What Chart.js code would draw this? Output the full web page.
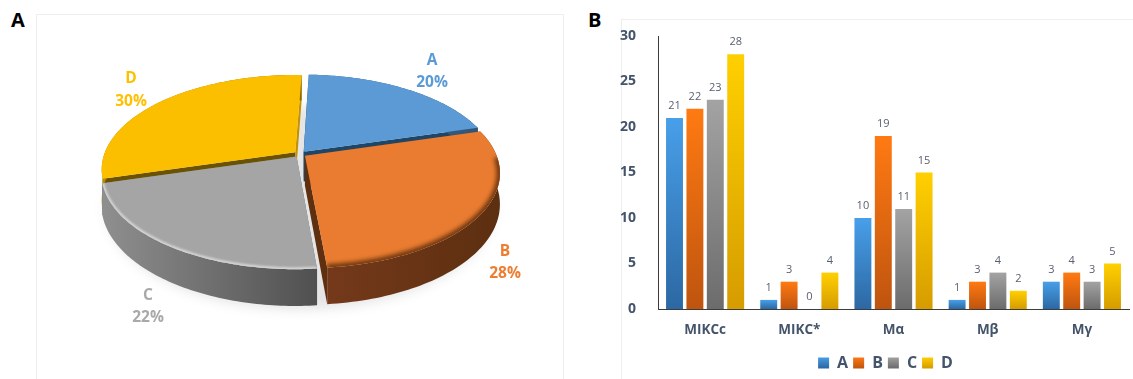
<!DOCTYPE html>
<html>
<head>
<meta charset="utf-8">
<title>Family shares and counts</title>
<script src="https://cdn.jsdelivr.net/npm/chart.js@4/dist/chart.umd.js"></script>
<style>
  html, body { margin: 0; padding: 0; background: #fff; overflow: hidden; }
  body { width: 1133px; height: 379px; position: relative; font-family: "Open Sans", sans-serif; }
  .panel { position: absolute; box-sizing: border-box; border: 1px solid #eee; border-bottom: 0; }
  #panelA { left: 36px; top: 14px; width: 528px; height: 365px; }
  #panelB { left: 621px; top: 19px; width: 512px; height: 360px; border-right: 0; }
  .tag { position: absolute; font-weight: 700; font-size: 20px; color: #000; line-height: 1; }
  canvas { position: absolute; top: 0; }
</style>
</head>
<body>
<div class="panel" id="panelA"></div>
<div class="panel" id="panelB"></div>
<div class="tag" style="left:11px;top:10px">A</div>
<div class="tag" style="left:588px;top:10px">B</div>
<canvas id="pieChart" width="600" height="379" style="left:0"></canvas>
<canvas id="barChart" width="531" height="379" style="left:620px"></canvas>
<script>
// Panel A
const pieLabels = ['A', 'B', 'C', 'D'];
const pieShares = [20, 28, 22, 30];

// Panel B
const categories = ['MIKCc', 'MIKC*', 'Mα', 'Mβ', 'Mγ'];
const seriesNames = ['A', 'B', 'C', 'D'];
const seriesA = [21, 1, 10, 1, 3];
const seriesB = [22, 3, 19, 3, 4];
const seriesC = [23, 0, 11, 4, 3];
const seriesD = [28, 4, 15, 2, 5];
const yTicks = [0, 5, 10, 15, 20, 25, 30];

const AXIS_COLOR = '#44546a';
const FONT = '"Open Sans", sans-serif';

// Tilted-disc look: k flattens the disc, p adds the front/back perspective,
// depth is the wall height at the disc's centre plane.
const tilt = { k: 0.48, p: 0.179, depth: 30 };

const sliceStyles = [
  { top: '#5b9ad4', text: '#5b9bd5', cutStart: '#1e4668', cutEnd: '#1e4668', wall: ['#3d6d99', '#2f5679'] },
  { top: '#e97c30', text: '#ed7d31', cutStart: '#7d4016', cutEnd: '#5f3010', wall: ['#74391a', '#5c2f10'] },
  { top: '#a5a5a5', text: '#a9a9a9', cutStart: '#707070', cutEnd: '#7a7a7a', wall: ['#8f8f8f', '#505050'] },
  { top: '#fcbf00', text: '#ffc000', cutStart: '#6b5200', cutEnd: '#c29200', wall: ['#b98c00', '#8f6c00'] }
];
// Hand-placed label centres, [x, y of name, y of percentage]
const pieLabelSpots = [[432, 61, 83], [505, 252, 274], [148, 296, 318], [131, 79, 102]];
// Back slices first so the front ones cover them
const paintOrder = [0, 3, 2, 1];

function projector(arc) {
  const R = arc.outerRadius;
  const mid = (arc.startAngle + arc.endAngle) / 2;
  const off = arc.options.offset || 0;
  const ox = Math.cos(mid) * off;
  const oy = Math.sin(mid) * off;
  return function(angle, frac, lift) {
    const u = Math.cos(angle) * R * frac + ox;
    const v = Math.sin(angle) * R * frac + oy;
    const s = 1 / (1 - tilt.p * v / R);
    return { x: arc.x + u * s, y: arc.y + v * tilt.k * s + lift * s };
  };
}

function rimPoints(arc, project, lift, from, to) {
  const pts = [];
  const steps = 80;
  for (let i = 0; i <= steps; i++) {
    pts.push(project(from + (to - from) * i / steps, 1, lift));
  }
  return pts;
}

function tracePolygon(ctx, pts) {
  ctx.beginPath();
  pts.forEach((p, i) => (i ? ctx.lineTo(p.x, p.y) : ctx.moveTo(p.x, p.y)));
  ctx.closePath();
}

function drawCutFace(ctx, project, angle, color) {
  tracePolygon(ctx, [project(angle, 0, 0), project(angle, 1, 0), project(angle, 1, tilt.depth), project(angle, 0, tilt.depth)]);
  ctx.fillStyle = color;
  ctx.fill();
}

function drawSlice(ctx, arc, style, index) {
  const project = projector(arc);
  const start = arc.startAngle;
  const end = arc.endAngle;

  drawCutFace(ctx, project, start, style.cutStart);
  drawCutFace(ctx, project, end, style.cutEnd);

  // outer wall
  const upper = rimPoints(arc, project, 0, start, end);
  const lower = rimPoints(arc, project, tilt.depth, start, end);
  const xs = upper.map(p => p.x);
  const wall = ctx.createLinearGradient(Math.min(...xs), 0, Math.max(...xs), 0);
  wall.addColorStop(0, style.wall[0]);
  wall.addColorStop(1, style.wall[1]);
  tracePolygon(ctx, upper.concat(lower.slice().reverse()));
  ctx.fillStyle = wall;
  ctx.fill();

  // top face
  const face = [project(start, 0, 0)].concat(upper);
  tracePolygon(ctx, face);
  ctx.fillStyle = style.top;
  ctx.fill();

  // soft bevel along the front of the rim
  if (index === 1 || index === 2) {
    const lo = Math.max(start, 0.02);
    const hi = Math.min(end, Math.PI - 0.02);
    const rimEdge = rimPoints(arc, project, 0, lo, hi);
    ctx.save();
    tracePolygon(ctx, face);
    ctx.clip();
    ctx.beginPath();
    rimEdge.forEach((p, i) => (i ? ctx.lineTo(p.x, p.y) : ctx.moveTo(p.x, p.y)));
    if (index === 1) {
      ctx.filter = 'blur(2px)';
      ctx.strokeStyle = 'rgba(105,52,15,0.95)';
      ctx.lineWidth = 7;
    } else {
      ctx.filter = 'blur(1px)';
      ctx.strokeStyle = 'rgba(222,222,222,0.85)';
      ctx.lineWidth = 4;
    }
    ctx.stroke();
    ctx.restore();
  }
}

const tiltedPie = {
  id: 'tiltedPie',
  beforeDatasetsDraw(chart) {
    const ctx = chart.ctx;
    const arcs = chart.getDatasetMeta(0).data;

    // ground shadow under the whole disc
    const base = projector({ x: arcs[0].x, y: arcs[0].y, outerRadius: arcs[0].outerRadius, startAngle: 0, endAngle: 0, options: {} });
    ctx.save();
    ctx.filter = 'blur(6px)';
    tracePolygon(ctx, rimPoints(arcs[0], base, tilt.depth + 6, 0, Math.PI * 2));
    ctx.fillStyle = 'rgba(0,0,0,0.1)';
    ctx.fill();
    ctx.restore();

    paintOrder.forEach(i => drawSlice(ctx, arcs[i], sliceStyles[i], i));

    ctx.save();
    ctx.textAlign = 'center';
    ctx.textBaseline = 'middle';
    ctx.font = '700 15.5px ' + FONT;
    pieLabels.forEach((name, i) => {
      const spot = pieLabelSpots[i];
      ctx.fillStyle = sliceStyles[i].text;
      ctx.fillText(name, spot[0], spot[1]);
      ctx.fillText(pieShares[i] + '%', spot[0], spot[2]);
    });
    ctx.restore();
    return false; // the slices are already on the canvas
  }
};

new Chart(document.getElementById('pieChart'), {
  type: 'pie',
  data: {
    labels: pieLabels,
    datasets: [{ data: pieShares, offset: 6, backgroundColor: sliceStyles.map(s => s.top) }]
  },
  options: {
    responsive: false,
    animation: false,
    rotation: 2,
    radius: 191,
    layout: { padding: { left: 0, right: 0, top: 0, bottom: 71 } },
    plugins: { legend: { display: false }, tooltip: { enabled: false } }
  },
  plugins: [tiltedPie]
});

// Bars shade from light at the top to dark at the baseline
const barShades = [
  ['#489fe9', '#2c68a3'],
  ['#ff7a12', '#bf540f'],
  ['#a3a3a3', '#6c6c6c'],
  ['#ffd000', '#d69c00']
];

function barFill(shade) {
  return function(context) {
    if (context.type !== 'data' || !context.chart.chartArea) return shade[0];
    const y = context.chart.scales.y;
    const g = context.chart.ctx.createLinearGradient(0, y.getPixelForValue(context.raw), 0, y.getPixelForValue(0));
    g.addColorStop(0, shade[0]);
    g.addColorStop(1, shade[1]);
    return g;
  };
}

const valueLabels = {
  id: 'valueLabels',
  afterDatasetsDraw(chart) {
    const ctx = chart.ctx;
    ctx.save();
    ctx.font = '11px ' + FONT;
    ctx.fillStyle = '#5a6070';
    ctx.textAlign = 'center';
    ctx.textBaseline = 'middle';
    chart.data.datasets.forEach((ds, d) => {
      chart.getDatasetMeta(d).data.forEach((bar, i) => {
        ctx.fillText(ds.data[i], bar.x, bar.y - 12);
      });
    });
    ctx.restore();
  }
};

// The legend sits a little right of and below its default slot
const legendNudge = {
  id: 'legendNudge',
  afterLayout(chart) {
    const box = chart.legend;
    box.left += 11;
    box.right += 11;
    box.top += 2;
    box.bottom += 2;
  }
};

const allSeries = [seriesA, seriesB, seriesC, seriesD];

new Chart(document.getElementById('barChart'), {
  type: 'bar',
  data: {
    labels: categories,
    datasets: seriesNames.map((name, i) => ({
      label: name,
      data: allSeries[i],
      backgroundColor: barFill(barShades[i]),
      categoryPercentage: 0.866,
      barPercentage: 0.83
    }))
  },
  options: {
    responsive: false,
    animation: false,
    layout: { padding: { top: 36, right: 22, left: 0, bottom: 0 } },
    plugins: {
      tooltip: { enabled: false },
      legend: {
        position: 'bottom',
        labels: {
          boxWidth: 11,
          boxHeight: 11,
          padding: 5,
          color: AXIS_COLOR,
          font: { family: FONT, size: 16, weight: '700' },
          generateLabels(chart) {
            return seriesNames.map((name, i) => {
              const g = chart.ctx.createLinearGradient(0, 357, 0, 368);
              g.addColorStop(0, barShades[i][0]);
              g.addColorStop(1, barShades[i][1]);
              return { text: name, fillStyle: g, strokeStyle: 'transparent', lineWidth: 0, fontColor: AXIS_COLOR, datasetIndex: i };
            });
          }
        }
      }
    },
    scales: {
      x: {
        grid: { display: false },
        border: { color: '#3c3c3c', width: 1 },
        ticks: { color: AXIS_COLOR, font: { family: FONT, size: 13.5, weight: '700' }, padding: 5, maxRotation: 0 },
        afterFit(scale) { scale.height = 39; }
      },
      y: {
        min: 0,
        max: 30,
        grid: { display: false },
        border: { color: '#3c3c3c', width: 1 },
        afterBuildTicks(scale) { scale.ticks = yTicks.map(v => ({ value: v })); },
        ticks: { color: AXIS_COLOR, font: { family: FONT, size: 14, weight: '700' }, padding: 14 },
        afterFit(scale) { scale.width = 38; }
      }
    }
  },
  plugins: [valueLabels, legendNudge]
});
</script>
</body>
</html>
